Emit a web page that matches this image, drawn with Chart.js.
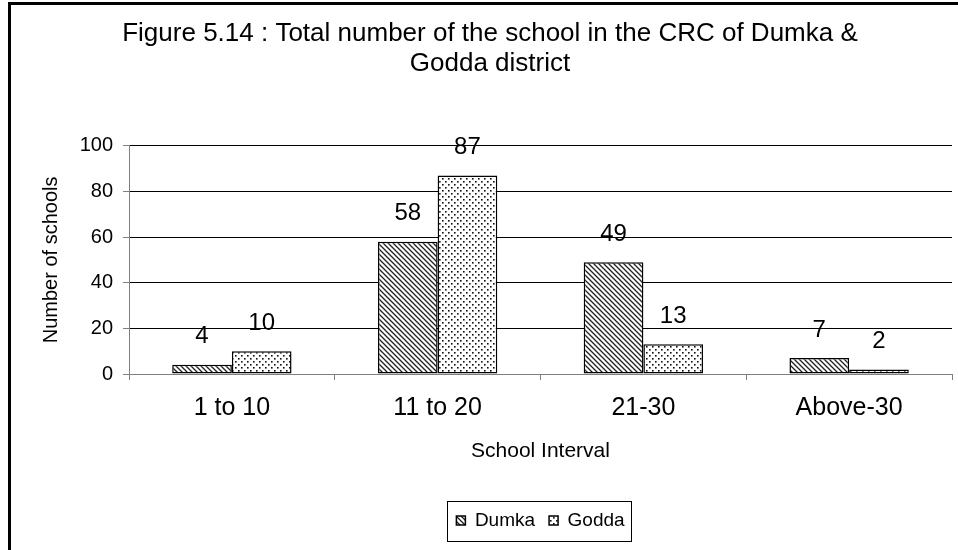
<!DOCTYPE html>
<html>
<head>
<meta charset="utf-8">
<style>
  html, body { margin: 0; padding: 0; background: #fff; }
  #wrap { position: relative; width: 958px; height: 550px; }
</style>
<script src="https://cdn.jsdelivr.net/npm/chart.js@4"></script>
</head>
<body>
<div id="wrap"><canvas id="chart" width="958" height="550"></canvas></div>
<script>
const categories = ["1 to 10", "11 to 20", "21-30", "Above-30"];
const dumkaValues = [4, 58, 49, 7];
const goddaValues = [10, 87, 13, 2];
const titleLines = ["Figure 5.14 : Total number of the school in the CRC of Dumka &", "Godda district"];
const yMax = 100;
const yStep = 20;

const FONT = "'Liberation Sans', Arial, sans-serif";

function makeHatch() {
    const c = document.createElement("canvas");
    c.width = 5;
    c.height = 5;
    const g = c.getContext("2d");
    g.fillStyle = "#fff";
    g.fillRect(0, 0, 5, 5);
    g.strokeStyle = "#222";
    g.lineWidth = 1.3;
    g.beginPath();
    g.moveTo(-1, -1); g.lineTo(6, 6);
    g.moveTo(-1, 4); g.lineTo(1, 6);
    g.moveTo(4, -1); g.lineTo(6, 1);
    g.stroke();
    return g.createPattern(c, "repeat");
}

function makeDots() {
    const c = document.createElement("canvas");
    c.width = 6;
    c.height = 6;
    const g = c.getContext("2d");
    g.fillStyle = "#fff";
    g.fillRect(0, 0, 6, 6);
    g.fillStyle = "#111";
    g.fillRect(1, 1, 1.6, 1.6);
    g.fillRect(4, 4, 1.6, 1.6);
    return g.createPattern(c, "repeat");
}

// outer frame, like the Excel chart border
const framePlugin = {
    id: "frame",
    beforeDraw(chart) {
        const ctx = chart.ctx;
        ctx.save();
        ctx.fillStyle = "#fff";
        ctx.fillRect(0, 0, chart.width, chart.height);
        ctx.fillStyle = "#000";
        ctx.fillRect(8, 2, 3, chart.height);
        ctx.fillRect(8, 2, chart.width, 3);
        ctx.restore();
    }
};

// numbers above the bars
const valueLabels = {
    id: "valueLabels",
    afterDatasetsDraw(chart) {
        const ctx = chart.ctx;
        ctx.save();
        ctx.font = "24px " + FONT;
        ctx.fillStyle = "#000";
        ctx.textAlign = "center";
        ctx.textBaseline = "middle";
        chart.data.datasets.forEach((ds, i) => {
            chart.getDatasetMeta(i).data.forEach((bar, j) => {
                ctx.fillText(String(ds.data[j]), bar.x, bar.y - 28);
            });
        });
        ctx.restore();
    }
};

// box round the legend
const legendBox = {
    id: "legendBox",
    afterDraw(chart) {
        const boxes = chart.legend && chart.legend.legendHitBoxes;
        if (!boxes || !boxes.length) return;
        const first = boxes[0];
        const last = boxes[boxes.length - 1];
        const ctx = chart.ctx;
        ctx.save();
        ctx.strokeStyle = "#000";
        ctx.lineWidth = 1;
        const x0 = Math.round(first.left - 9) + 0.5;
        const x1 = Math.round(last.left + last.width + 6) + 0.5;
        const yc = first.top + first.height / 2;
        ctx.strokeRect(x0, Math.round(yc - 20) + 0.5, x1 - x0, 40);
        ctx.restore();
    }
};

const hatch = makeHatch();
const dots = makeDots();

new Chart(document.getElementById("chart"), {
    type: "bar",
    data: {
        labels: categories,
        datasets: [
            {
                label: "Dumka",
                data: dumkaValues,
                backgroundColor: hatch,
                borderColor: "#000",
                borderWidth: 1.5,
                borderSkipped: false,
                categoryPercentage: 0.58,
                barPercentage: 1
            },
            {
                label: "Godda",
                data: goddaValues,
                backgroundColor: dots,
                borderColor: "#000",
                borderWidth: 1.5,
                borderSkipped: false,
                categoryPercentage: 0.58,
                barPercentage: 1
            }
        ]
    },
    options: {
        responsive: false,
        animation: false,
        layout: { padding: { left: 28, right: 6, top: 0, bottom: 10 } },
        plugins: {
            title: {
                display: true,
                text: titleLines,
                color: "#000",
                font: { family: FONT, size: 26, weight: "normal", lineHeight: 1.15 },
                padding: { top: 19, bottom: 67 }
            },
            legend: {
                position: "bottom",
                fullSize: false,
                labels: {
                    color: "#000",
                    font: { family: FONT, size: 19 },
                    boxWidth: 9,
                    boxHeight: 9,
                    padding: 14
                }
            },
            tooltip: { enabled: false }
        },
        scales: {
            x: {
                grid: { display: true, drawOnChartArea: false, drawTicks: true, tickLength: 6, color: "#808080", offset: true },
                border: { color: "#808080", width: 1 },
                ticks: { color: "#000", font: { family: FONT, size: 25 }, padding: 13 },
                title: {
                    display: true,
                    text: "School Interval",
                    color: "#000",
                    font: { family: FONT, size: 21 },
                    padding: { top: 0, bottom: 33 }
                },
                afterFit(scale) { scale.height = 123; }
            },
            y: {
                min: 0,
                max: yMax,
                ticks: { stepSize: yStep, color: "#000", font: { family: FONT, size: 20 }, padding: 10 },
                grid: { color: "#000", lineWidth: 1, tickLength: 6, tickColor: "#808080" },
                border: { color: "#808080", width: 1 },
                title: {
                    display: true,
                    text: "Number of schools",
                    color: "#000",
                    font: { family: FONT, size: 20 },
                    padding: { top: 11, bottom: 0 }
                },
                afterFit(scale) { scale.width = 101; }
            }
        }
    },
    plugins: [framePlugin, valueLabels, legendBox]
});
</script>
</body>
</html>
